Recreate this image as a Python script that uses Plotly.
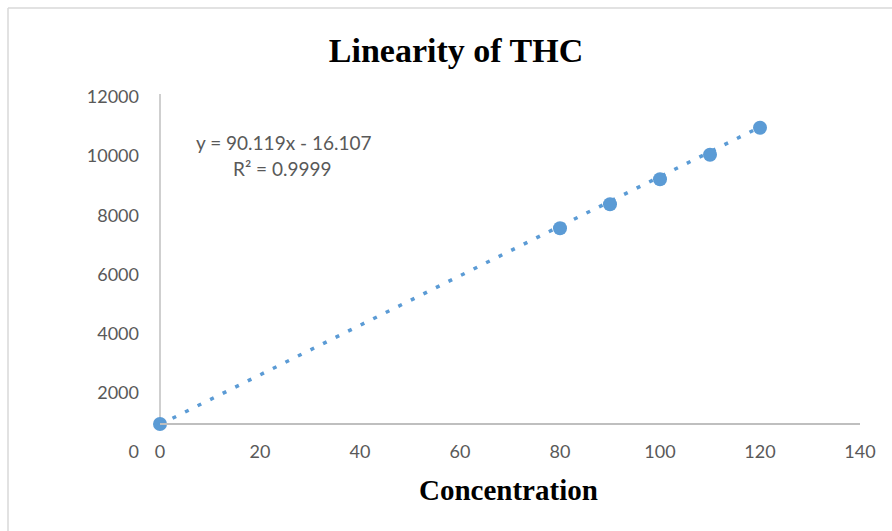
import plotly.graph_objects as go

# ---- data ----
concentration = [0, 80, 90, 100, 110, 120]
response = [0, 7120, 7990, 8900, 9790, 10770]
slope = 90.119
intercept = -16.107
r_squared = 0.9999
x_ticks = [0, 20, 40, 60, 80, 100, 120, 140]
y_ticks = [0, 2000, 4000, 6000, 8000, 10000, 12000]

BLUE = "#5B9BD5"
GREY_TXT = "#595959"
AXIS_GREY = "#BFBFBF"
W, H = 892, 531

# layout geometry (pixels)
L, R, T, B = 160, 32, 94, 79
plot_w = W - L - R
plot_h = H - T - B
zero_px = 424          # pixel row of y = 0 for data
top_px = 94            # pixel row of y = 12000 for data
bottom_px = H - B
scale = (zero_px - top_px) / 12000.0
y_lo = -(bottom_px - zero_px) / scale
label_scale = (bottom_px - 97) / 12000.0
y2_hi = 12000 + (97 - T) / label_scale

trend_x = [min(concentration), max(concentration)]
trend_y = [slope * v + intercept for v in trend_x]

fig = go.Figure()
fig.add_trace(go.Scatter(
    x=trend_x, y=trend_y, mode="lines",
    line=dict(color=BLUE, width=3.5, dash="4px,10px"),
    hoverinfo="skip", showlegend=False))
fig.add_trace(go.Scatter(
    x=concentration, y=response, mode="markers",
    marker=dict(color=BLUE, size=14), cliponaxis=False,
    showlegend=False))

tick_font = dict(family="Lato, Open Sans, sans-serif", size=18, color=GREY_TXT)
eq_font = dict(family="Lato, Open Sans, sans-serif", size=19, color=GREY_TXT)

fig.update_layout(
    width=W, height=H,
    margin=dict(l=L, r=R, t=T, b=B),
    paper_bgcolor="white", plot_bgcolor="white",
    title=dict(text="<b>Linearity of THC</b>",
               font=dict(family="Liberation Serif, Times New Roman, serif", size=34, color="black"),
               x=456 / W, xanchor="center", y=1 - 50 / H, yanchor="middle", yref="container"),
    xaxis=dict(range=[0, 140], tickvals=x_ticks, showgrid=False, zeroline=False,
               showline=True, linecolor=AXIS_GREY, linewidth=1.5,
               anchor="free", position=(bottom_px - zero_px) / plot_h,
               ticks="", ticklabelstandoff=12, tickfont=tick_font),
    yaxis=dict(range=[y_lo, 12000], showgrid=False, zeroline=False, showline=False,
               showticklabels=False, ticks=""),
    yaxis2=dict(range=[0, y2_hi], overlaying="y", side="left", tickvals=y_ticks,
                tickformat="d",
                showgrid=False, zeroline=False, showline=False, ticks="",
                ticklabelstandoff=20, tickfont=tick_font),
    shapes=[
        dict(type="line", xref="x domain", yref="y", x0=0, x1=0, y0=0, y1=12000,
             line=dict(color=AXIS_GREY, width=1.5), layer="below"),
        dict(type="line", xref="paper", yref="paper",
             x0=(8 - L) / plot_w, x1=(8 - L) / plot_w,
             y0=(bottom_px - 8) / plot_h, y1=(bottom_px - H) / plot_h,
             line=dict(color="#D9D9D9", width=1.5)),
        dict(type="line", xref="paper", yref="paper",
             x0=(8 - L) / plot_w, x1=(W - L) / plot_w,
             y0=(bottom_px - 8) / plot_h, y1=(bottom_px - 8) / plot_h,
             line=dict(color="#D9D9D9", width=1.5)),
    ],
    annotations=[
        dict(text=f"y = {slope}x - {abs(intercept)}",
             xref="paper", yref="paper", x=(284 - L) / plot_w, y=(bottom_px - 142) / plot_h,
             xanchor="center", yanchor="middle", showarrow=False, font=eq_font),
        dict(text=f"R² = {r_squared}",
             xref="paper", yref="paper", x=(282 - L) / plot_w, y=(bottom_px - 168) / plot_h,
             xanchor="center", yanchor="middle", showarrow=False, font=eq_font),
        dict(text="<b>Concentration</b>", xref="paper", yref="paper",
             x=(508 - L) / plot_w, y=(bottom_px - 490) / plot_h,
             xanchor="center", yanchor="middle", showarrow=False,
             font=dict(family="Liberation Serif, Times New Roman, serif", size=29, color="black")),
    ],
)
# invisible trace so yaxis2 is rendered
fig.add_trace(go.Scatter(x=[None], y=[None], yaxis="y2", showlegend=False, hoverinfo="skip"))

fig.write_html("out.html")
